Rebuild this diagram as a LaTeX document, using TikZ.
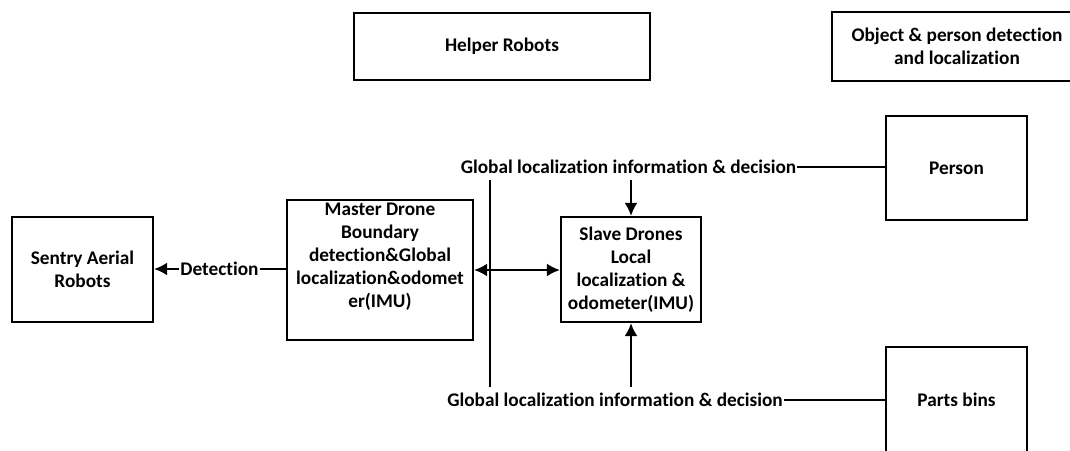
\documentclass[tikz,border=0pt]{standalone}
\usepackage{fontspec}
\setmainfont{Carlito}[Ligatures=NoCommon]
\usetikzlibrary{arrows.meta}
\begin{document}
\begin{tikzpicture}[x=1pt,y=-1pt,line width=2.2pt,
            >={Latex[length=13pt,width=13pt]},
            every node/.style={font=\fontsize{19.3}{23}\selectfont\bfseries,align=center,inner sep=0pt},
            box/.style={rectangle,draw,line width=2.2pt}]
            \useasboundingbox (0,0) rectangle (1070,450);
            \node[box,minimum width=296,minimum height=67] (helper) at (502,46.5) {Helper Robots};
            \node[box,minimum width=250,minimum height=69] (object) at (957,46.5) {Object \& person detection\\and localization};
            \node[box,minimum width=141,minimum height=105] (sentry) at (82.5,269.5) {Sentry Aerial\\Robots};
            \node[box,minimum width=186,minimum height=140] (master) at (380,270) {};
            \node (mastertxt) at (380,257) {Master Drone\\Boundary\\detection\&Global\\localization\&odomet\\er(IMU)};
            \node[box,minimum width=140,minimum height=105] (slave) at (631,269.5) {Slave Drones\\Local\\localization \&\\odometer(IMU)};
            \node[box,minimum width=141,minimum height=104] (person) at (956.5,168) {Person};
            \node[box,minimum width=141,minimum height=106] (parts) at (956.5,400) {Parts bins};
            \node (detect) at (219.5,269) {Detection};
            \node (globtop) at (628.5,167) {Global localization information \& decision};
            \node (globbot) at (615,400) {Global localization information \& decision};
            \coordinate (vtop) at (490,180);
            \coordinate (vbot) at (490,387);

            \draw (detect.east) -- (detect.east -| master.west);
            \draw[->] (detect.west) -- (detect.west -| sentry.east);
            \draw[<->] (master.east) -- (master.east -| slave.west);
            \draw (vtop) -- (vbot);
            \draw[->] (slave.north |- vtop) -- (slave.north);
            \draw[->] (slave.south |- vbot) -- (slave.south);
            \draw (globtop.east) -- (globtop.east -| person.west);
            \draw (globbot.east) -- (globbot.east -| parts.west);
          \end{tikzpicture}
\end{document}
